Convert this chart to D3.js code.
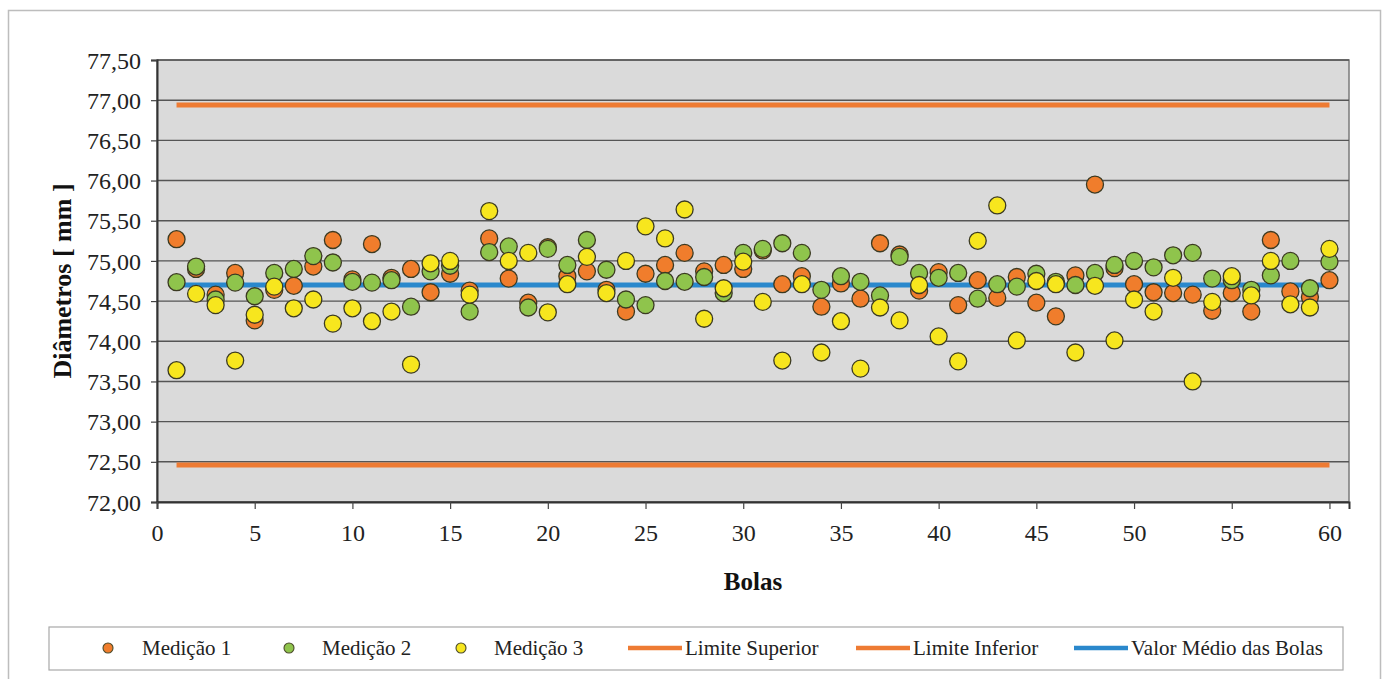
<!DOCTYPE html>
<html><head><meta charset="utf-8">
<script src="https://cdn.jsdelivr.net/npm/d3@7/dist/d3.min.js"></script>
<style>body{margin:0;background:#fff;}svg{display:block;} svg text{font-family:"Liberation Serif","Times New Roman","DejaVu Serif",serif;}</style>
</head><body>
<svg id="chart" width="1385" height="679"></svg>
<script>
const bolas = d3.range(1, 61);
const medicao1 = [75.27,74.90,74.58,74.85,74.26,74.64,74.69,74.93,75.26,74.77,75.21,74.79,74.90,74.61,74.84,74.63,75.28,74.78,74.48,75.17,74.81,74.87,74.64,74.37,74.84,74.95,75.10,74.87,74.95,74.90,75.13,74.71,74.81,74.43,74.72,74.53,75.22,75.08,74.63,74.86,74.45,74.76,74.54,74.80,74.48,74.31,74.82,75.95,74.91,74.71,74.61,74.60,74.58,74.38,74.60,74.37,75.26,74.62,74.55,74.76];
const medicao2 = [74.735,74.93,74.52,74.73,74.56,74.85,74.90,75.06,74.98,74.74,74.73,74.76,74.43,74.87,74.94,74.37,75.11,75.18,74.42,75.15,74.95,75.26,74.89,74.52,74.45,74.75,74.74,74.80,74.60,75.10,75.15,75.22,75.10,74.64,74.81,74.74,74.57,75.05,74.85,74.79,74.85,74.53,74.71,74.68,74.84,74.74,74.70,74.85,74.95,75.00,74.92,75.07,75.10,74.78,74.76,74.64,74.82,75.00,74.66,74.99];
const medicao3 = [73.64,74.59,74.45,73.76,74.33,74.68,74.41,74.52,74.22,74.41,74.25,74.37,73.71,74.97,75.00,74.58,75.62,75.00,75.10,74.36,74.71,75.05,74.60,75.00,75.43,75.28,75.64,74.28,74.66,74.99,74.49,73.76,74.71,73.86,74.25,73.66,74.42,74.26,74.70,74.06,73.75,75.25,75.69,74.01,74.75,74.71,73.86,74.69,74.01,74.52,74.37,74.79,73.50,74.49,74.81,74.57,75.00,74.46,74.42,75.15];
const limiteSuperior = 76.94;
const limiteInferior = 72.46;
const valorMedio = 74.70;
const xTicks = [0,5,10,15,20,25,30,35,40,45,50,55,60];
const yTicks = [72,72.5,73,73.5,74,74.5,75,75.5,76,76.5,77,77.5];
const seriesNames = ["Medição 1","Medição 2","Medição 3","Limite Superior","Limite Inferior","Valor Médio das Bolas"].map(s => s.normalize("NFC"));
const xTitle = "Bolas";
const yTitle = "Diâmetros [ mm ]".normalize("NFC");

const cOrange = "#f07d2c", cGreen = "#8fc44c", cYellow = "#f7e61e", cLine = "#ee7b33", cBlue = "#2a88cc";
const font = "Liberation Serif";

const svg = d3.select("#chart");
const L = 157, R = 1349, T = 60, B = 502;
const x = d3.scaleLinear().domain([0, 61]).range([L, R]);
const y = d3.scaleLinear().domain([72, 77.5]).range([B, T]);

// outer border
svg.append("rect").attr("x", 8.5).attr("y", 10.5).attr("width", 1372).attr("height", 700)
  .attr("fill", "#fff").attr("stroke", "#bdbdbd").attr("stroke-width", 1.5);

// plot bg
svg.append("rect").attr("x", L).attr("y", T).attr("width", R - L).attr("height", B - T)
  .attr("fill", "#dadada").attr("stroke", "#7a7a7a").attr("stroke-width", 1.5);

// gridlines
svg.append("g").selectAll("line").data(yTicks).join("line")
  .attr("x1", L).attr("x2", R).attr("y1", d => y(d)).attr("y2", d => y(d))
  .attr("stroke", "#555").attr("stroke-width", 1.4);

// axes
const yAxis = d3.axisLeft(y).tickValues(yTicks).tickSize(6)
  .tickFormat(d => d3.format(".2f")(d).replace(".", ","));
const gy = svg.append("g").attr("transform", `translate(${L},0)`).call(yAxis)
  .attr("font-family", font).attr("font-size", 24);
gy.select(".domain").attr("stroke", "#333").attr("stroke-width", 2);
gy.selectAll(".tick line").attr("stroke", "#444").attr("stroke-width", 1.2);
gy.selectAll(".tick text").attr("x", -16).attr("dy", "0.34em").attr("fill", "#222");

const xAxis = d3.axisBottom(x).tickValues(xTicks).tickSize(7).tickFormat(d3.format("d"));
const gx = svg.append("g").attr("transform", `translate(0,${B})`).call(xAxis)
  .attr("font-family", font).attr("font-size", 24);
gx.select(".domain").attr("stroke", "#333").attr("stroke-width", 2);
gx.selectAll(".tick line").attr("stroke", "#444").attr("stroke-width", 1.2);
gx.selectAll(".tick text").attr("y", 22).attr("dy", "0.71em").attr("fill", "#222");

// reference lines
const lineGen = d3.line().x(d => x(d[0])).y(d => y(d[1]));
const xs = [bolas[0], bolas[bolas.length - 1]];
[[limiteSuperior, cLine], [limiteInferior, cLine], [valorMedio, cBlue]].forEach(([v, c]) => {
  svg.append("path").datum(xs.map(b => [b, v])).attr("d", lineGen)
    .attr("fill", "none").attr("stroke", c).attr("stroke-width", 5);
});

// points
[[medicao1, cOrange], [medicao2, cGreen], [medicao3, cYellow]].forEach(([vals, c]) => {
  svg.append("g").selectAll("circle").data(vals).join("circle")
    .attr("cx", (d, i) => x(bolas[i])).attr("cy", d => y(d)).attr("r", 8.5)
    .attr("fill", c).attr("stroke", "#3b3a22").attr("stroke-width", 1.3);
});

// axis titles
svg.append("text").attr("x", (L + R) / 2).attr("y", 590).attr("text-anchor", "middle")
  .attr("font-family", font).attr("font-size", 25).attr("font-weight", "bold").attr("fill", "#111").text(xTitle);
svg.append("text").attr("transform", `translate(71,${(T + B) / 2}) rotate(-90)`).attr("text-anchor", "middle")
  .attr("font-family", font).attr("font-size", 26).attr("font-weight", "bold").attr("fill", "#111").text(yTitle);

// legend
svg.append("rect").attr("x", 49).attr("y", 627).attr("width", 1294).attr("height", 43)
  .attr("fill", "#fff").attr("stroke", "#a8a8a8").attr("stroke-width", 1.2);
const legY = 648;
const legItems = [
  {type: "dot", c: cOrange, mx: 108, tx: 142},
  {type: "dot", c: cGreen, mx: 289, tx: 322},
  {type: "dot", c: cYellow, mx: 461, tx: 494},
  {type: "line", c: cLine, mx: 628, tx: 685},
  {type: "line", c: cLine, mx: 856, tx: 913},
  {type: "line", c: cBlue, mx: 1074, tx: 1131}
];
legItems.forEach((it, i) => {
  if (it.type === "dot") {
    svg.append("circle").attr("cx", it.mx).attr("cy", legY).attr("r", 5)
      .attr("fill", it.c).attr("stroke", "#4a4a2a").attr("stroke-width", 1.1);
  } else {
    svg.append("line").attr("x1", it.mx).attr("x2", it.mx + 54).attr("y1", legY).attr("y2", legY)
      .attr("stroke", it.c).attr("stroke-width", 4.5);
  }
  svg.append("text").attr("x", it.tx).attr("y", legY + 7)
    .attr("font-family", font).attr("font-size", 21).attr("fill", "#222").text(seriesNames[i]);
});
</script>
</body></html>
